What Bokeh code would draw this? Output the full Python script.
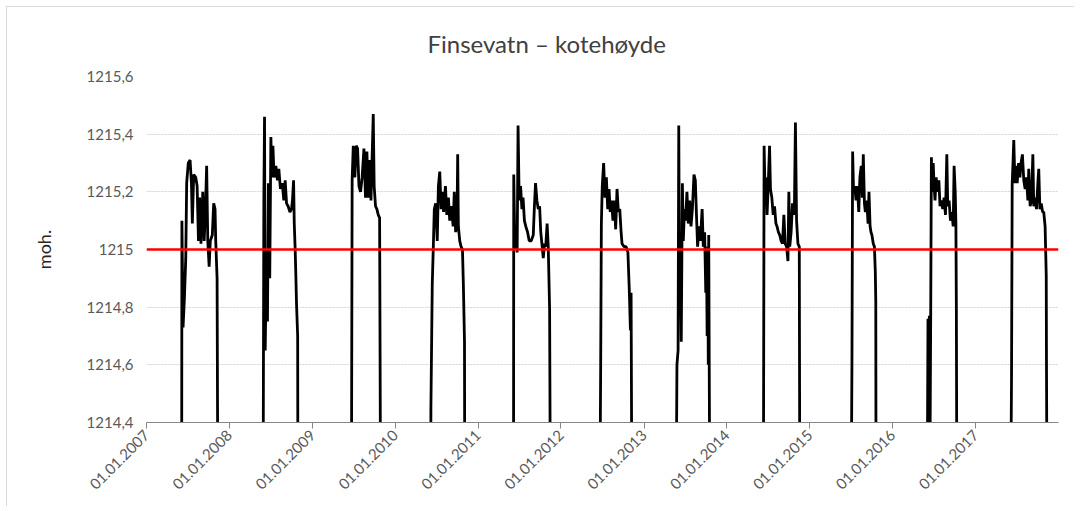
import math
import numpy as np
import pandas as pd
from datetime import datetime
from bokeh.plotting import figure
from bokeh.models import (Range1d, FixedTicker, DatetimeTickFormatter, CustomJSTickFormatter,
                          Span, ColumnDataSource)
from bokeh.embed import file_html
from bokeh.resources import INLINE

# ---------------- data (day of year, water level in m a.s.l.) ----------------
LOW = 1214.2  # readings below the axis minimum (lake level out of range)
REF_LEVEL = 1215.0

doy_2007 = [156, 157, 162, 168, 174, 178, 185, 193, 199, 203, 209, 218, 224, 230, 235, 241, 249, 255, 260, 266,
            271, 277, 282, 291, 297, 303, 306, 312, 315]
lvl_2007 = [LOW, 1215.10, 1214.73, 1214.83, 1214.97, 1215.23, 1215.30, 1215.31, 1215.23, 1215.09, 1215.26, 1215.25,
            1215.22, 1215.03, 1215.18, 1215.02, 1215.20, 1215.03, 1215.12, 1215.29, 1215.03, 1214.94, 1215.03,
            1215.05, 1215.16, 1215.14, 1215.03, 1214.90, LOW]

doy_2008 = [150, 153, 156, 159, 165, 169, 173, 179, 184, 188, 193, 198, 206, 213, 219, 226, 234, 241, 247, 253,
            260, 268, 275, 279, 284, 287, 291, 294, 297, 302, 303]
lvl_2008 = [LOW, 1215.17, 1215.46, 1214.65, 1215.00, 1214.75, 1215.23, 1214.90, 1215.39, 1215.25, 1215.36, 1215.25,
            1215.29, 1215.24, 1215.28, 1215.21, 1215.23, 1215.17, 1215.24, 1215.16, 1215.15, 1215.13, 1215.14,
            1215.17, 1215.24, 1215.09, 1215.00, 1214.91, 1214.81, 1214.70, LOW]

doy_2009 = [173, 176, 181, 188, 194, 200, 206, 213, 220, 228, 235, 241, 247, 253, 259, 264, 269, 273, 279, 285,
            291, 297, 301]
lvl_2009 = [LOW, 1215.24, 1215.36, 1215.25, 1215.36, 1215.35, 1215.22, 1215.20, 1215.25, 1215.35, 1215.18, 1215.34,
            1215.18, 1215.31, 1215.17, 1215.32, 1215.47, 1215.22, 1215.15, 1215.14, 1215.12, 1215.11, LOW]

doy_2010 = [157, 158, 164, 169, 173, 179, 186, 191, 197, 203, 208, 214, 222, 228, 235, 241, 248, 256, 261, 267,
            273, 276, 279, 285, 291, 297, 301, 306, 307]
lvl_2010 = [LOW, 1214.45, 1214.88, 1215.02, 1215.14, 1215.16, 1215.03, 1215.22, 1215.27, 1215.14, 1215.20, 1215.13,
            1215.22, 1215.12, 1215.18, 1215.10, 1215.15, 1215.08, 1215.20, 1215.06, 1215.10, 1215.33, 1215.08,
            1215.03, 1215.01, 1215.00, 1214.88, 1214.68, LOW]

doy_2011 = [157, 158, 163, 167, 173, 177, 182, 188, 194, 199, 205, 211, 219, 226, 235, 244, 249, 254, 260, 266,
            272, 277, 282, 288, 294, 299, 305, 310, 316, 319]
lvl_2011 = [LOW, 1215.26, 1215.00, 1215.07, 1214.99, 1215.43, 1215.17, 1215.22, 1215.14, 1215.18, 1215.10, 1215.08,
            1215.06, 1215.03, 1215.03, 1215.05, 1215.15, 1215.23, 1215.17, 1215.14, 1215.15, 1215.06, 1215.02,
            1214.97, 1215.02, 1215.01, 1215.09, 1215.01, 1214.79, LOW]

doy_2012 = [173, 176, 179, 183, 189, 195, 201, 207, 213, 218, 224, 230, 236, 242, 248, 254, 260, 266, 270, 279,
            288, 296, 302, 307, 310, 313]
lvl_2012 = [LOW, 1214.60, 1215.09, 1215.22, 1215.30, 1215.18, 1215.25, 1215.14, 1215.21, 1215.13, 1215.17, 1215.10,
            1215.17, 1215.07, 1215.21, 1215.13, 1215.14, 1215.06, 1215.02, 1215.01, 1215.01, 1214.99, 1214.86,
            1214.72, 1214.85, LOW]

doy_2013 = [143, 146, 151, 154, 157, 161, 165, 170, 174, 179, 184, 190, 196, 202, 208, 214, 221, 227, 232, 237,
            243, 249, 257, 262, 268, 273, 276, 279, 282, 284, 286, 289, 290]
lvl_2013 = [LOW, 1214.60, 1214.65, 1215.43, 1214.88, 1215.01, 1214.68, 1215.23, 1215.03, 1215.14, 1215.10, 1215.20,
            1215.09, 1215.17, 1215.08, 1215.14, 1215.26, 1215.24, 1215.12, 1215.01, 1215.08, 1215.03, 1215.14,
            1215.01, 1215.06, 1214.85, 1215.00, 1214.70, 1215.01, 1214.60, 1215.05, 1214.45, LOW]

doy_2014 = [162, 165, 170, 174, 178, 183, 189, 193, 199, 205, 211, 217, 222, 228, 234, 240, 246, 252, 258, 264,
            270, 274, 278, 284, 290, 295, 299, 303, 308, 314, 320, 322]
lvl_2014 = [LOW, 1215.36, 1215.17, 1215.25, 1215.12, 1215.22, 1215.36, 1215.21, 1215.18, 1215.12, 1215.15, 1215.09,
            1215.08, 1215.06, 1215.05, 1215.03, 1215.02, 1215.12, 1215.02, 1215.01, 1214.96, 1215.20, 1215.01,
            1215.06, 1215.16, 1215.12, 1215.17, 1215.44, 1215.10, 1215.02, 1215.01, LOW]

doy_2015 = [184, 187, 190, 194, 199, 205, 211, 217, 222, 228, 233, 237, 242, 246, 252, 258, 262, 267, 271, 275,
            281, 286, 290, 292, 293]
lvl_2015 = [LOW, 1214.60, 1215.34, 1215.20, 1215.22, 1215.17, 1215.22, 1215.13, 1215.25, 1215.29, 1215.18, 1215.33,
            1215.16, 1215.13, 1215.17, 1215.09, 1215.20, 1215.08, 1215.06, 1215.05, 1215.02, 1215.01, 1214.92,
            1214.82, LOW]

doy_2016 = [154, 157, 160, 163, 166, 169, 172, 175, 180, 184, 188, 193, 199, 205, 210, 216, 222, 228, 234, 240,
            244, 250, 256, 262, 268, 272, 277, 280, 282, 284]
lvl_2016 = [LOW, 1214.76, 1214.30, 1214.77, 1214.30, 1214.78, 1215.32, 1215.20, 1215.30, 1215.22, 1215.17, 1215.25,
            1215.20, 1215.24, 1215.15, 1215.17, 1215.14, 1215.18, 1215.12, 1215.33, 1215.15, 1215.17, 1215.10,
            1215.13, 1215.08, 1215.29, 1215.20, 1215.09, 1214.80, LOW]

doy_2017 = [156, 159, 162, 166, 169, 174, 178, 184, 190, 196, 201, 207, 213, 219, 225, 231, 235, 241, 247, 253,
            257, 263, 269, 275, 279, 284, 290, 296, 301, 307, 312, 313, 315]
lvl_2017 = [LOW, 1214.55, 1215.23, 1215.31, 1215.38, 1215.23, 1215.29, 1215.23, 1215.30, 1215.25, 1215.30, 1215.33,
            1215.24, 1215.21, 1215.25, 1215.17, 1215.28, 1215.15, 1215.17, 1215.33, 1215.15, 1215.18, 1215.14,
            1215.23, 1215.28, 1215.14, 1215.16, 1215.13, 1215.13, 1215.08, 1214.91, 1214.62, LOW]

seasons = [(2007, doy_2007, lvl_2007), (2008, doy_2008, lvl_2008), (2009, doy_2009, lvl_2009),
           (2010, doy_2010, lvl_2010), (2011, doy_2011, lvl_2011), (2012, doy_2012, lvl_2012),
           (2013, doy_2013, lvl_2013), (2014, doy_2014, lvl_2014), (2015, doy_2015, lvl_2015),
           (2016, doy_2016, lvl_2016), (2017, doy_2017, lvl_2017)]

y_ticks = [1214.4, 1214.6, 1214.8, 1215.0, 1215.2, 1215.4, 1215.6]
x_tick_years = list(range(2007, 2018))

# ---------------- build series with gaps between seasons ----------------
dates, levels = [], []
for yr, doys, lvls in seasons:
    base = pd.Timestamp(f"{yr}-01-01")
    for d, v in zip(doys, lvls):
        dates.append(base + pd.Timedelta(days=d - 1))
        levels.append(v)
    dates.append(base + pd.Timedelta(days=max(doys) + 1))
    levels.append(np.nan)

source = ColumnDataSource(data=dict(date=dates, level=levels))

FONT = "Lato"
p = figure(width=1068, height=500, x_axis_type="datetime",
           x_range=Range1d(datetime(2007, 1, 1), datetime(2018, 1, 1)),
           y_range=Range1d(1214.4, 1215.6),
           output_backend="svg", toolbar_location=None,
           min_border_left=139, min_border_right=17, min_border_top=69, min_border_bottom=85,
           title="Finsevatn \u2013 kotehøyde")
p.styles = {"border-left": "1px solid #d9d9d9", "border-top": "1px solid #d9d9d9",
            "margin-left": "6px", "margin-top": "6px"}

p.title.text_font = FONT
p.title.text_font_size = "24px"
p.title.text_font_style = "normal"
p.title.text_color = "#404040"
p.title.align = "left"
p.title.offset = 281
p.title.standoff = 37

p.outline_line_color = None
p.background_fill_color = "white"
p.border_fill_color = "white"

# line
p.line("date", "level", source=source, line_color="black", line_width=2.8)

# reference line
p.add_layout(Span(location=REF_LEVEL, dimension="width", line_color="#ff0000", line_width=2.6))

# y axis
p.yaxis.ticker = FixedTicker(ticks=y_ticks)
p.yaxis.formatter = CustomJSTickFormatter(code="""
const r = Math.round(tick * 10) / 10;
if (Math.abs(r - Math.round(r)) < 1e-6) { return Math.round(r).toString(); }
return r.toFixed(1).replace('.', ',');
""")
p.yaxis.axis_line_color = None
p.yaxis.major_tick_line_color = None
p.yaxis.minor_tick_line_color = None
p.yaxis.major_label_text_font = FONT
p.yaxis.major_label_text_font_size = "15px"
p.yaxis.major_label_text_color = "#595959"
p.yaxis.major_label_standoff = 7
p.yaxis.axis_label = "moh."
p.yaxis.axis_label_text_font = FONT
p.yaxis.axis_label_text_font_size = "18px"
p.yaxis.axis_label_text_font_style = "normal"
p.yaxis.axis_label_text_color = "#262626"
p.yaxis.axis_label_standoff = 29

# x axis
tick_ms = [pd.Timestamp(f"{y}-01-01").value // 10**6 for y in x_tick_years]
p.xaxis.ticker = FixedTicker(ticks=tick_ms)
fmt = "%d.%m.%Y"
p.xaxis.formatter = DatetimeTickFormatter(years=fmt, months=fmt, days=fmt, hours=fmt, minutes=fmt,
                                          seconds=fmt, milliseconds=fmt, microseconds=fmt, hourmin=fmt,
                                          minsec=fmt)
p.xaxis.major_label_orientation = math.pi / 4
p.xaxis.axis_line_color = "#868686"
p.xaxis.axis_line_width = 1
p.xaxis.major_tick_line_color = "#868686"
p.xaxis.major_tick_in = 0
p.xaxis.major_tick_out = 6
p.xaxis.minor_tick_line_color = None
p.xaxis.major_label_text_font = FONT
p.xaxis.major_label_text_font_size = "15px"
p.xaxis.major_label_text_color = "#595959"
p.xaxis.major_label_standoff = 4

# grids
p.xgrid.grid_line_color = None
p.ygrid.ticker = FixedTicker(ticks=y_ticks)
p.ygrid.grid_line_color = "#d4d4d4"
p.ygrid.grid_line_dash = "2 1"
p.ygrid.grid_line_width = 1

open("out.html", "w").write(file_html(p, INLINE))
